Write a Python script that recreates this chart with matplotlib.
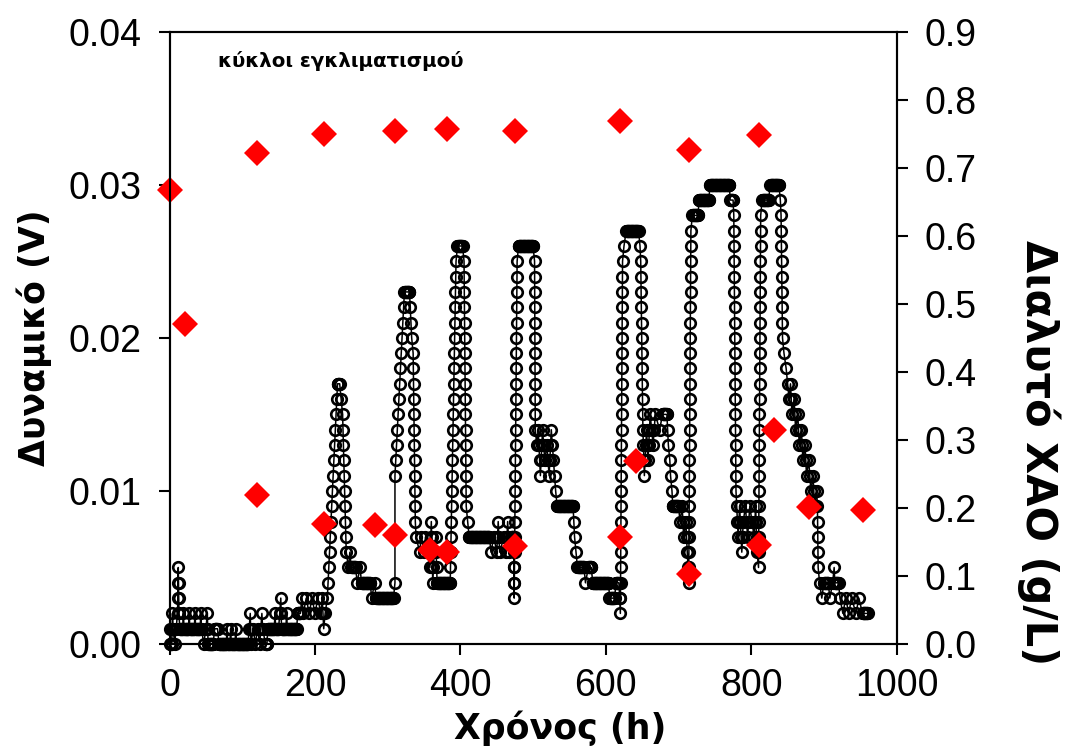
import numpy as np
import matplotlib
matplotlib.use("Agg")
import matplotlib.pyplot as plt
from matplotlib.ticker import FormatStrFormatter

plt.rcParams['font.family'] = ['Liberation Sans', 'DejaVu Sans']

knot_h = [0, 1, 3, 4, 5, 7, 9, 11, 12, 13, 14, 18, 19, 20, 26, 27, 28, 34, 35, 36,
          42, 43, 44, 47, 50, 52, 53, 60, 62, 66, 68, 78, 79, 80, 83, 84, 85, 90, 91, 92,
          108, 111, 112, 115, 118, 121, 124, 127, 128, 132, 134, 135, 144, 145, 146, 150, 153, 154, 160, 161,
          162, 175, 176, 180, 182, 184, 188, 192, 196, 200, 204, 208, 210, 212, 214, 217,
          231, 234, 236, 238, 243, 246, 248, 250, 256, 258, 262, 264, 276, 278, 282, 284, 308, 310, 310,
          323, 330, 333, 335, 338, 339, 344, 346, 350, 352, 356, 358, 360, 362, 364, 366, 368, 386,
          394, 396, 403, 405, 408, 410, 412, 440, 442, 446, 450, 452, 454, 460, 463, 465, 467, 470, 473, 474,
          478, 480, 500, 502, 503, 505, 507, 510, 513, 516, 519, 522, 525, 528, 531, 533, 555, 556, 557, 559,
          561, 570, 572, 576, 580, 582, 604, 605, 612, 614, 618, 619, 620,
          623, 625, 628, 645, 647, 648, 651, 653, 656, 658, 661, 665, 668, 674, 678, 684, 686, 688, 689, 691,
          692, 700, 702, 705, 707, 710, 712, 713, 714,
          717, 719, 727, 728, 742, 743, 770, 771, 775, 776, 779, 780, 782, 784, 787, 789, 792, 795, 798, 801,
          804, 806, 808, 810,
          813, 815, 824, 826, 838, 840, 841, 843, 845, 848, 850, 852, 854, 856, 859, 861, 864, 866, 869, 871,
          874, 876, 879, 882, 885, 887, 890, 891, 892, 894, 897, 900, 906, 908, 912, 914, 915, 920, 922, 926,
          930, 934, 938, 944, 948, 953, 960]
knot_mv = [1, 0, 0, 2, 1, 0, 1, 2, 5, 2, 1, 1, 2, 1, 1, 2, 1, 1, 2, 1,
           1, 2, 1, 0, 1, 2, 0, 0, 1, 1, 0, 0, 1, 0, 0, 1, 0, 0, 1, 0,
           0, 2, 0, 1, 0, 1, 0, 2, 1, 0, 0, 1, 1, 2, 1, 1, 3, 1, 1, 2,
           1, 1, 2, 2, 3, 2, 3, 2, 3, 2, 3, 2, 3, 1, 2, 3,
           17, 17, 16, 15, 6, 5, 6, 5, 5, 4, 5, 4, 4, 3, 4, 3, 3, 4, 11,
           23, 23, 20, 19, 8, 7, 6, 7, 6, 7, 6, 5, 8, 4, 6, 7, 4, 4,
           25, 26, 26, 25, 9, 8, 7, 7, 6, 7, 6, 8, 6, 7, 6, 8, 6, 7, 7, 3,
           25, 26, 26, 25, 14, 13, 14, 11, 14, 12, 13, 11, 14, 12, 10, 9, 9, 8, 7, 6,
           5, 5, 4, 5, 5, 4, 4, 3, 3, 4, 4, 3, 2,
           25, 26, 27, 27, 26, 25, 14, 11, 14, 12, 15, 13, 15, 14, 15, 15, 13, 12, 11, 10,
           9, 9, 8, 9, 7, 8, 6, 5, 4,
           27, 28, 28, 29, 29, 30, 30, 29, 29, 28, 10, 9, 7, 9, 6, 8, 9, 7, 9, 8,
           7, 9, 6, 5,
           28, 29, 29, 30, 30, 29, 28, 20, 19, 18, 17, 16, 17, 15, 16, 14, 15, 13, 14, 12,
           13, 11, 12, 10, 11, 9, 10, 9, 5, 4, 3, 4, 4, 3, 4, 5, 4, 4, 3, 2,
           3, 2, 3, 2, 3, 2, 2]

# dissolved COD (g/L), start and end of each acclimation cycle
cod_h = [0, 21, 120, 120, 213, 213, 283, 310, 310, 358, 381, 381,
         475, 475, 620, 620, 641, 715, 715, 811, 811, 831, 880, 953]
cod_val = [0.667, 0.470, 0.721, 0.219, 0.749, 0.176, 0.175, 0.754, 0.160, 0.138, 0.757, 0.135,
           0.754, 0.144, 0.768, 0.157, 0.269, 0.726, 0.103, 0.748, 0.146, 0.314, 0.201, 0.197]


def logger_samples(kh, kv, dt=0.5):
    # walk the knots at the logger's 1 mV resolution
    t, v = [kh[0]], [kv[0]]
    for i in range(1, len(kh)):
        h0, h1, v0, v1 = kh[i - 1], kh[i], kv[i - 1], kv[i]
        if v1 == v0:
            n = max(1, int(round((h1 - h0) / dt)))
            for k in range(1, n + 1):
                t.append(h0 + (h1 - h0) * k / n)
                v.append(v0)
        elif h1 == h0:
            t.append(h1)
            v.append(v1)
        else:
            n = abs(v1 - v0)
            s = 1 if v1 > v0 else -1
            for k in range(1, n + 1):
                t.append(h0 + (h1 - h0) * k / n)
                v.append(v0 + s * k)
    return np.array(t), np.array(v) / 1000.0


t, volt = logger_samples(knot_h, knot_mv)

fig = plt.figure(figsize=(10.69, 7.56), dpi=100)
ax = fig.add_axes([0.1586, 0.1481, 0.6802, 0.81])
ax.plot(t, volt, color='black', lw=1.1, marker='o', ms=7.6, mfc='none', mec='black', mew=1.9,
        clip_on=False)
ax.set_xlim(0, 1000)
ax.set_ylim(0, 0.04)
ax.set_xticks(np.arange(0, 1001, 200))
ax.set_yticks(np.arange(0, 0.0401, 0.01))
ax.yaxis.set_major_formatter(FormatStrFormatter('%.2f'))

ax2 = ax.twinx()
ax2.plot(cod_h, cod_val, linestyle='none', marker='D', ms=13.5, color='#ff0000', mew=0,
         clip_on=False)
ax2.set_ylim(0, 0.9)
ax2.set_yticks(np.arange(0, 0.91, 0.1))
ax2.yaxis.set_major_formatter(FormatStrFormatter('%.1f'))

for a in (ax, ax2):
    for sp in a.spines.values():
        sp.set_linewidth(1.5)
    a.tick_params(direction='out', length=8, width=1.5, labelsize=27)
ax.tick_params(axis='y', pad=12)
ax.tick_params(axis='x', pad=9)
ax2.tick_params(axis='y', pad=12)

lab_font = dict(family=['DejaVu Sans'], fontsize=25, fontweight='bold')
ax.set_xlabel('Χρόνος (h)', **lab_font)
ax.xaxis.set_label_coords(0.537, -0.108)
ax.set_ylabel('Δυναμικό (V)', labelpad=12, **lab_font)
ax2.set_ylabel('Διαλυτό ΧΑΟ (g/L)', rotation=270, family=['DejaVu Sans'], fontsize=30,
               fontweight='bold', ha='center', va='center', rotation_mode='anchor')
ax2.yaxis.set_label_coords(1.196, 0.312)

ax.text(0.066, 0.968, 'κύκλοι εγκλιματισμού', transform=ax.transAxes, fontsize=14.2,
        family=['DejaVu Sans'], fontweight='bold', va='top', ha='left')

fig.savefig('out.png', dpi=100)
